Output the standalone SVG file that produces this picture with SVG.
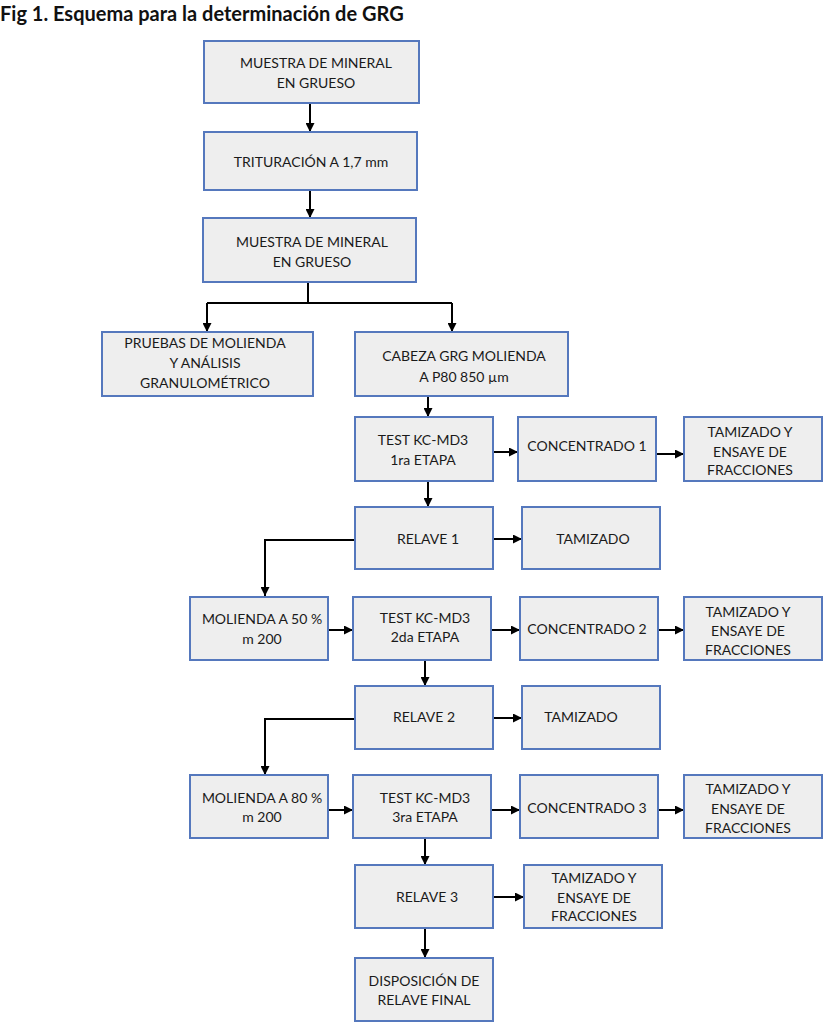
<svg xmlns="http://www.w3.org/2000/svg" width="823" height="1024" viewBox="0 0 823 1024">
<style>
  .box { fill: #eeeeee; stroke: #5578bd; stroke-width: 2; }
  .t { font-family: Lato, "Open Sans", "Liberation Sans", sans-serif; font-size: 14px; fill: #1a1a1a; text-anchor: middle; }
  .title { font-family: Lato, "Open Sans", "Liberation Sans", sans-serif; font-size: 20px; font-weight: bold; fill: #111; }
  .c { fill: none; stroke: #000; stroke-width: 2; }
  .a { marker-end: url(#arr); }
</style>
<defs>
  <marker id="arr" markerUnits="userSpaceOnUse" markerWidth="9" markerHeight="9" refX="8" refY="4" orient="auto" viewBox="0 0 8 8">
    <path d="M0,0 L8,4 L0,8 z" fill="#000"/>
  </marker>
</defs>
<rect width="823" height="1024" fill="#fff"/>
<text class="title" x="0" y="21">Fig 1. Esquema para la determinación de GRG</text>

<g id="connectors">
  <path class="c a" d="M310,103 V132"/>
  <path class="c a" d="M310,190 V218"/>
  <path class="c" d="M308,282 V303 M207,303 H452"/>
  <path class="c a" d="M207,303 V332"/>
  <path class="c a" d="M452,303 V332"/>
  <path class="c a" d="M428,396 V417"/>
  <path class="c a" d="M493,452 H518"/>
  <path class="c a" d="M656,454 H684"/>
  <path class="c a" d="M428,481 V507"/>
  <path class="c a" d="M493,539 H522"/>
  <path class="c a" d="M355,540 H265 V596"/>
  <path class="c a" d="M328,630 H353"/>
  <path class="c a" d="M491,630 H520"/>
  <path class="c a" d="M658,630 H684"/>
  <path class="c a" d="M425,660 V686"/>
  <path class="c a" d="M493,718 H522"/>
  <path class="c a" d="M355,719 H265 V775"/>
  <path class="c a" d="M328,810 H353"/>
  <path class="c a" d="M491,810 H520"/>
  <path class="c a" d="M658,810 H684"/>
  <path class="c a" d="M425,838 V865"/>
  <path class="c a" d="M493,897 H524"/>
  <path class="c a" d="M425,928 V958"/>
</g>

<g id="n1"><rect class="box" x="204" y="41" width="215" height="62"/>
  <text class="t" x="316" y="68">MUESTRA DE MINERAL</text><text class="t" x="316" y="88">EN GRUESO</text></g>
<g id="n2"><rect class="box" x="204" y="132" width="213" height="58"/>
  <text class="t" x="311" y="167">TRITURACIÓN A 1,7 mm</text></g>
<g id="n3"><rect class="box" x="203" y="218" width="213" height="64"/>
  <text class="t" x="312" y="247">MUESTRA DE MINERAL</text><text class="t" x="312" y="267">EN GRUESO</text></g>
<g id="n4"><rect class="box" x="102" y="332" width="211" height="64"/>
  <text class="t" x="205" y="348">PRUEBAS DE MOLIENDA</text><text class="t" x="205" y="368">Y ANÁLISIS</text><text class="t" x="205" y="388">GRANULOMÉTRICO</text></g>
<g id="n5"><rect class="box" x="355" y="332" width="213" height="64"/>
  <text class="t" x="464" y="361">CABEZA GRG MOLIENDA</text><text class="t" x="464" y="382">A P80 850 µm</text></g>
<g id="n6"><rect class="box" x="355" y="417" width="138" height="64"/>
  <text class="t" x="423" y="445">TEST KC-MD3</text><text class="t" x="423" y="465">1ra ETAPA</text></g>
<g id="n7"><rect class="box" x="518" y="417" width="138" height="64"/>
  <text class="t" x="587" y="451">CONCENTRADO 1</text></g>
<g id="n8"><rect class="box" x="684" y="417" width="138" height="64"/>
  <text class="t" x="750" y="437">TAMIZADO Y</text><text class="t" x="750" y="457">ENSAYE DE</text><text class="t" x="750" y="475">FRACCIONES</text></g>
<g id="n9"><rect class="box" x="355" y="507" width="138" height="62"/>
  <text class="t" x="428" y="544">RELAVE 1</text></g>
<g id="n10"><rect class="box" x="522" y="507" width="138" height="62"/>
  <text class="t" x="593" y="544">TAMIZADO</text></g>
<g id="n11"><rect class="box" x="190" y="597" width="138" height="63"/>
  <text class="t" x="262" y="624">MOLIENDA A 50 %</text><text class="t" x="262" y="644">m 200</text></g>
<g id="n12"><rect class="box" x="353" y="597" width="138" height="63"/>
  <text class="t" x="425" y="623">TEST KC-MD3</text><text class="t" x="425" y="642">2da ETAPA</text></g>
<g id="n13"><rect class="box" x="520" y="597" width="138" height="63"/>
  <text class="t" x="587" y="634">CONCENTRADO 2</text></g>
<g id="n14"><rect class="box" x="684" y="597" width="138" height="63"/>
  <text class="t" x="748" y="617">TAMIZADO Y</text><text class="t" x="748" y="636">ENSAYE DE</text><text class="t" x="748" y="655">FRACCIONES</text></g>
<g id="n15"><rect class="box" x="355" y="686" width="138" height="63"/>
  <text class="t" x="424" y="722">RELAVE 2</text></g>
<g id="n16"><rect class="box" x="522" y="686" width="138" height="63"/>
  <text class="t" x="581" y="722">TAMIZADO</text></g>
<g id="n17"><rect class="box" x="190" y="775" width="138" height="63"/>
  <text class="t" x="262" y="803">MOLIENDA A 80 %</text><text class="t" x="262" y="822">m 200</text></g>
<g id="n18"><rect class="box" x="353" y="775" width="138" height="63"/>
  <text class="t" x="425" y="803">TEST KC-MD3</text><text class="t" x="425" y="822">3ra ETAPA</text></g>
<g id="n19"><rect class="box" x="520" y="775" width="138" height="63"/>
  <text class="t" x="587" y="813">CONCENTRADO 3</text></g>
<g id="n20"><rect class="box" x="684" y="775" width="138" height="63"/>
  <text class="t" x="748" y="794">TAMIZADO Y</text><text class="t" x="748" y="814">ENSAYE DE</text><text class="t" x="748" y="833">FRACCIONES</text></g>
<g id="n21"><rect class="box" x="355" y="865" width="138" height="63"/>
  <text class="t" x="427" y="902">RELAVE 3</text></g>
<g id="n22"><rect class="box" x="524" y="865" width="138" height="63"/>
  <text class="t" x="594" y="883">TAMIZADO Y</text><text class="t" x="594" y="903">ENSAYE DE</text><text class="t" x="594" y="921">FRACCIONES</text></g>
<g id="n23"><rect class="box" x="355" y="958" width="138" height="63"/>
  <text class="t" x="424" y="986">DISPOSICIÓN DE</text><text class="t" x="424" y="1005">RELAVE FINAL</text></g>
</svg>
